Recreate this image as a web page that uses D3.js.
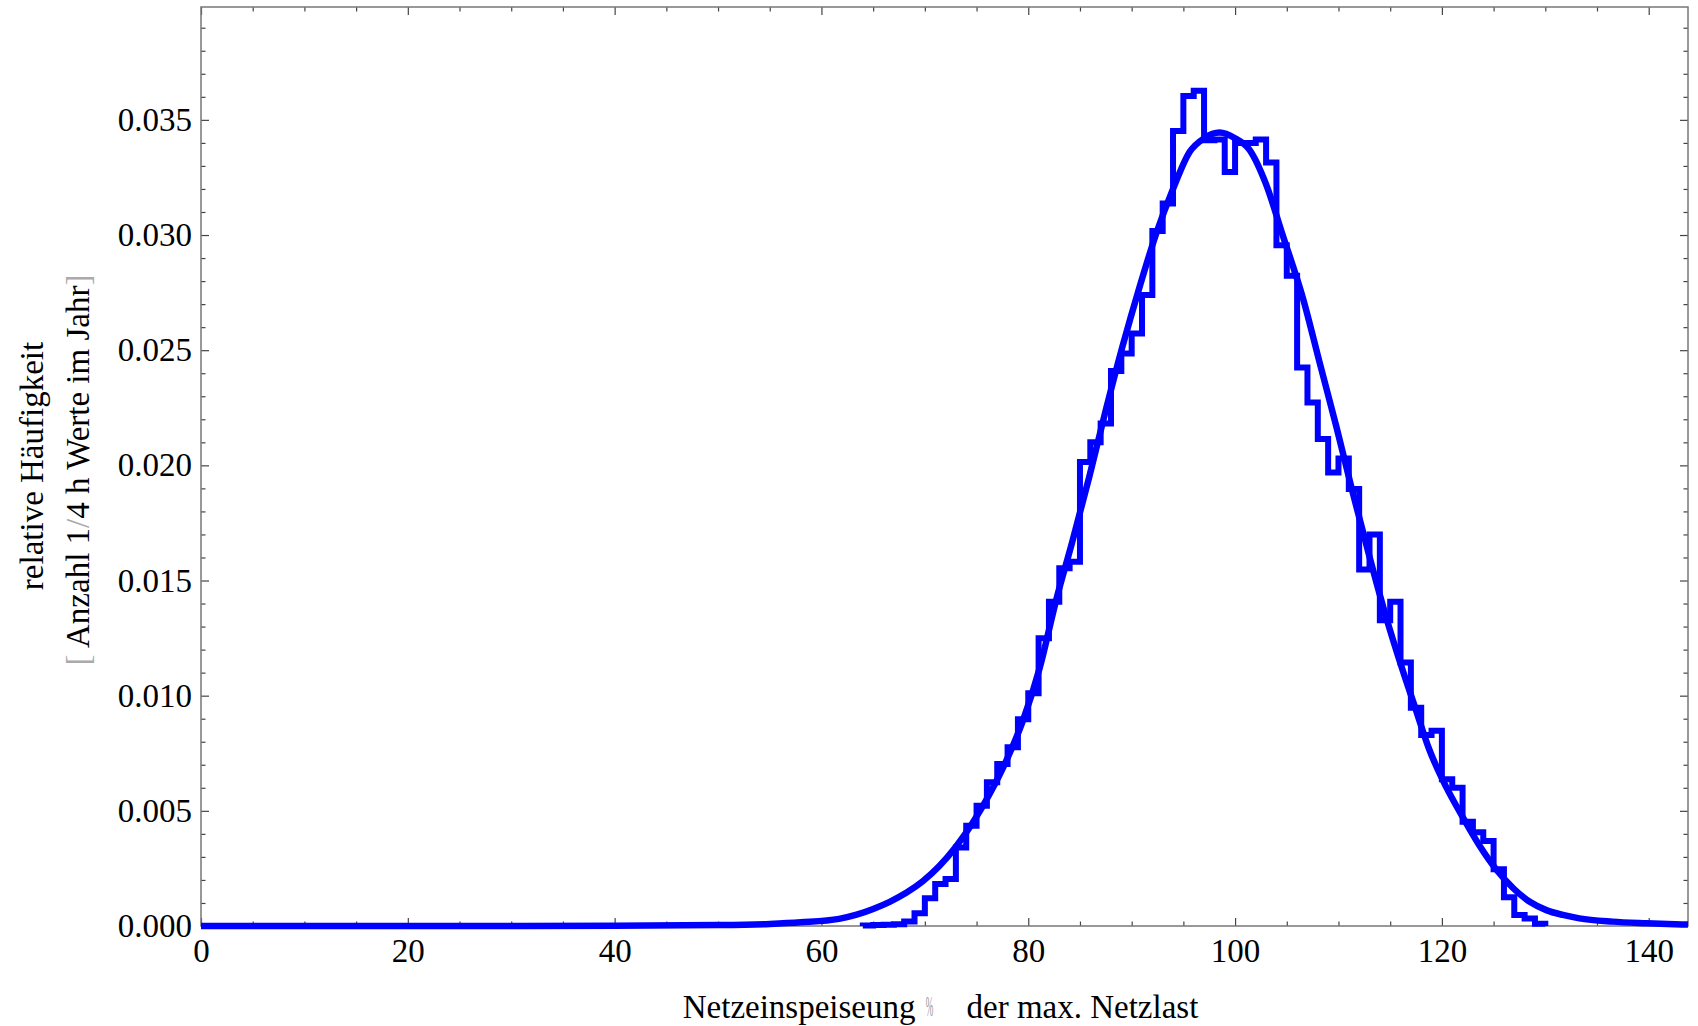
<!DOCTYPE html>
<html lang="de">
<head>
<meta charset="UTF-8">
<script src="https://cdnjs.cloudflare.com/ajax/libs/d3/7.8.5/d3.min.js"></script>
<style>
    body { margin: 0; background: #fff; }
    text { font-family: "Liberation Serif", "Times New Roman", serif; }
</style>
</head>
<body>
<script>
// histogram: left edge of each 1 % wide bin and its relative frequency
var binLeft = [64, 65, 66, 67, 68, 69, 70, 71, 72, 73, 74, 75, 76, 77, 78, 79, 80, 81, 82, 83, 84, 85,
               86, 87, 88, 89, 90, 91, 92, 93, 94, 95, 96, 97, 98, 99, 100, 101, 102, 103, 104, 105, 106, 107,
               108, 109, 110, 111, 112, 113, 114, 115, 116, 117, 118, 119, 120, 121, 122, 123, 124, 125, 126, 127, 128, 129];
var binFreq = [0.00002, 0.00004, 0.00005, 0.00008, 0.00019, 0.00055, 0.0012, 0.00182, 0.00204, 0.00341, 0.00435,
               0.00522, 0.00624, 0.00703, 0.00776, 0.00898, 0.0101, 0.01249, 0.01408, 0.01553, 0.01581, 0.02015,
               0.021, 0.02182, 0.0241, 0.02486, 0.02572, 0.0274, 0.03018, 0.03137, 0.03452, 0.03604, 0.03626,
               0.03411, 0.03415, 0.03274, 0.034, 0.034, 0.03415, 0.03315, 0.02956, 0.02823, 0.02425, 0.02273,
               0.02114, 0.01969, 0.0203, 0.01897, 0.01548, 0.017, 0.01328, 0.01408, 0.01144, 0.00948, 0.00829,
               0.00848, 0.00637, 0.006, 0.00453, 0.00407, 0.00369, 0.00246, 0.00125, 0.00048, 0.00033, 0.0001];
var binEnd = 130;

// fitted density curve
var fitX = [0, 20, 40, 50, 55, 58, 61.7, 63.4, 65, 66.6, 68.2, 69.8, 71.4, 73, 74.6, 76.3, 77.9, 79.5, 81.1,
            82.7, 84.3, 85.9, 87.5, 89.1, 90.8, 92.4, 94, 95.6, 97, 98.5, 100, 101.4, 103, 104.6, 106.6, 108.2,
            109.8, 111.4, 113, 114.6, 116.2, 117.4, 118.8, 120.4, 122, 123.6, 125.3, 126.9, 128.5, 130.1, 131.7,
            133.3, 136.5, 139.8, 143.8];
var fitY = [0, 0, 0.00001, 0.00004, 0.00009, 0.00016, 0.00031, 0.00049, 0.00074, 0.00105, 0.00144, 0.00194,
            0.0026, 0.00344, 0.00446, 0.00576, 0.0072, 0.00894, 0.0112, 0.01415, 0.01675, 0.0195, 0.0224,
            0.02514, 0.0278, 0.0301, 0.0320, 0.0336, 0.0342, 0.03445, 0.0342, 0.0337, 0.0322, 0.0300, 0.0272,
            0.02442, 0.02167, 0.01878, 0.01603, 0.01342, 0.01111, 0.0095, 0.00764, 0.00605, 0.00474, 0.00352,
            0.00243, 0.00164, 0.00105, 0.00069, 0.00048, 0.00033, 0.00019, 0.00012, 0.00006];

var xTicks = [0, 20, 40, 60, 80, 100, 120, 140];
var yTicks = [0, 0.005, 0.010, 0.015, 0.020, 0.025, 0.030, 0.035];

var width = 1698, height = 1026;
var plotL = 201, plotR = 1688, plotT = 7, plotB = 926;

var svg = d3.select("body").append("svg")
    .attr("width", width)
    .attr("height", height);

var x = d3.scaleLinear().domain([0, 143.8]).range([plotL, plotR]);
var y = d3.scaleLinear().domain([0, 0.0399]).range([plotB, plotT]);

var xMinor = d3.range(0, 144, 5).filter(d => d % 20 != 0);
var yMinor = d3.range(0, 40).filter(d => d % 5 != 0).map(d => d / 1000);

function styleAxis(g) {
    g.select(".domain").remove();
    g.selectAll(".tick line").attr("stroke", "#444").attr("stroke-width", 1.2);
    g.selectAll("text").attr("font-size", 33).attr("fill", "#000")
        .attr("font-family", "Liberation Serif, Times New Roman, serif");
}

// major + minor ticks on all four sides, pointing inwards
svg.append("g").attr("transform", "translate(" + plotL + ",0)")
    .call(d3.axisLeft(y).tickValues(yTicks).tickFormat(d3.format(".3f")).tickSize(-8).tickPadding(9))
    .call(styleAxis);
svg.append("g").attr("transform", "translate(" + plotL + ",0)")
    .call(d3.axisLeft(y).tickValues(yMinor).tickFormat("").tickSize(-4.5))
    .call(styleAxis);
svg.append("g").attr("transform", "translate(" + plotR + ",0)")
    .call(d3.axisRight(y).tickValues(yTicks).tickFormat("").tickSize(-8))
    .call(styleAxis);
svg.append("g").attr("transform", "translate(" + plotR + ",0)")
    .call(d3.axisRight(y).tickValues(yMinor).tickFormat("").tickSize(-4.5))
    .call(styleAxis);

svg.append("g").attr("transform", "translate(0," + plotB + ")")
    .call(d3.axisBottom(x).tickValues(xTicks).tickFormat(d3.format("d")).tickSize(-8).tickPadding(13))
    .call(styleAxis);
svg.append("g").attr("transform", "translate(0," + plotB + ")")
    .call(d3.axisBottom(x).tickValues(xMinor).tickFormat("").tickSize(-4.5))
    .call(styleAxis);
svg.append("g").attr("transform", "translate(0," + plotT + ")")
    .call(d3.axisTop(x).tickValues(xTicks).tickFormat("").tickSize(-8))
    .call(styleAxis);
svg.append("g").attr("transform", "translate(0," + plotT + ")")
    .call(d3.axisTop(x).tickValues(xMinor).tickFormat("").tickSize(-4.5))
    .call(styleAxis);

// frame
svg.append("rect")
    .attr("x", plotL).attr("y", plotT)
    .attr("width", plotR - plotL).attr("height", plotB - plotT)
    .attr("fill", "none").attr("stroke", "#777").attr("stroke-width", 1.5);

// histogram outline as a step line
var steps = [[binLeft[0], 0]].concat(binLeft.map((b, i) => [b, binFreq[i]]), [[binEnd, 0]]);
var stepLine = d3.line()
    .x(d => x(d[0]))
    .y(d => y(d[1]))
    .curve(d3.curveStepAfter);

svg.append("path")
    .attr("d", stepLine(steps))
    .attr("fill", "none")
    .attr("stroke", "#0000ff")
    .attr("stroke-width", 6)
    .attr("stroke-linejoin", "miter");

// fitted curve
var fitLine = d3.line()
    .x((d, i) => x(fitX[i]))
    .y(d => y(d))
    .curve(d3.curveMonotoneX);

svg.append("path")
    .attr("d", fitLine(fitY))
    .attr("fill", "none")
    .attr("stroke", "#0000ff")
    .attr("stroke-width", 6.5)
    .attr("stroke-linejoin", "round");

// axis titles
var cx = (plotL + plotR) / 2;
svg.append("text")
    .attr("x", cx - 29).attr("y", 1018)
    .attr("text-anchor", "end").attr("font-size", 33)
    .text("Netzeinspeiseung");
svg.append("text")
    .attr("transform", "translate(" + (cx - 15) + ",1016) scale(0.3,1)")
    .attr("text-anchor", "middle").attr("font-size", 30)
    .attr("fill", "#999")
    .text("%");
svg.append("text")
    .attr("x", cx + 22).attr("y", 1018)
    .attr("text-anchor", "start").attr("font-size", 33)
    .text("der max. Netzlast");

svg.append("text")
    .attr("transform", "translate(43,466) rotate(-90)")
    .attr("text-anchor", "middle").attr("font-size", 33)
    .text("relative Häufigkeit");

var yTitle2 = svg.append("text")
    .attr("transform", "translate(89,470) rotate(-90)")
    .attr("text-anchor", "middle").attr("font-size", 33);
yTitle2.append("tspan").attr("fill", "#aaa").text("[");
yTitle2.append("tspan").text(" Anzahl 1");
yTitle2.append("tspan").attr("fill", "#aaa").text("/");
yTitle2.append("tspan").text("4 h Werte im Jahr");
yTitle2.append("tspan").attr("fill", "#aaa").text("]");
</script>
</body>
</html>
